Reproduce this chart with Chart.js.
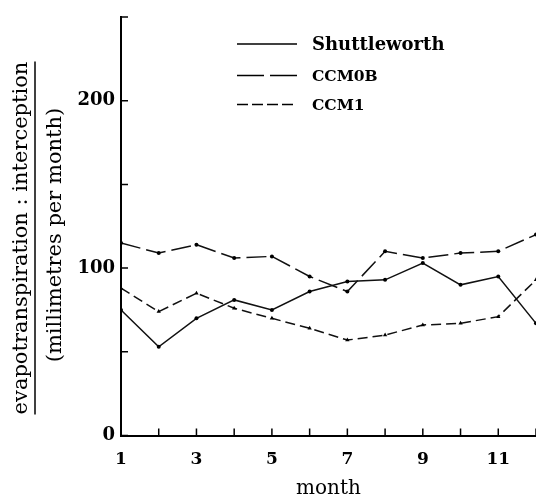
<!DOCTYPE html>
<html>
<head>
<meta charset="utf-8">
<script src="https://cdn.jsdelivr.net/npm/chart.js@4.4.1/dist/chart.umd.min.js"></script>
<style>
  html, body { margin: 0; padding: 0; background: #fff; overflow: hidden; }
  #wrap { width: 536px; height: 499px; overflow: hidden; }
</style>
</head>
<body>
<div id="wrap"><canvas id="myChart" width="540" height="499"></canvas></div>
<script>
// data (mm per month)
var months = [1, 2, 3, 4, 5, 6, 7, 8, 9, 10, 11, 12];
var shuttleworth = [75, 53, 70, 81, 75, 86, 92, 93, 103, 90, 95, 67];
var ccm0b = [115, 109, 114, 106, 107, 95, 86, 110, 106, 109, 110, 120];
var ccm1 = [88, 74, 85, 76, 70, 64, 57, 60, 66, 67, 71, 93];
var seriesNames = ['Shuttleworth', 'CCM0B', 'CCM1'];
var xLabels = [1, 3, 5, 7, 9, 11];
var yLabels = [0, 100, 200];
var yTitle = ['evapotranspiration : interception', '(millimetres per month)'];

var SERIF = '"DejaVu Serif", serif';

function toPoints(vals) {
  return months.map(function (m, i) { return { x: m, y: vals[i] }; });
}

//Drawing stuff that chart.js does not do: inward ticks, fraction title, legend
var paperPlugin = {
  id: 'paper',
  afterDraw: function (chart) {
    var ctx = chart.ctx;
    var xs = chart.scales.x, ys = chart.scales.y, area = chart.chartArea;
    ctx.save();
    ctx.strokeStyle = '#000';
    ctx.lineWidth = 1.5;
    ctx.beginPath();
    xs.ticks.forEach(function (t) {
      var px = xs.getPixelForValue(t.value);
      ctx.moveTo(px, area.bottom);
      ctx.lineTo(px, area.bottom - 7);
    });
    ys.ticks.forEach(function (t) {
      var py = ys.getPixelForValue(t.value);
      ctx.moveTo(area.left, py);
      ctx.lineTo(area.left + 7, py);
    });
    ctx.stroke();

    // y title as a fraction
    ctx.save();
    ctx.rotate(-Math.PI / 2);
    ctx.fillStyle = '#000';
    ctx.textAlign = 'center';
    ctx.textBaseline = 'alphabetic';
    ctx.font = '21px ' + SERIF;
    var w = ctx.measureText(yTitle[0]).width;
    ctx.fillText(yTitle[0], -238, 27);
    ctx.fillText(yTitle[1], -235, 61);
    ctx.lineWidth = 1.5;
    ctx.beginPath();
    ctx.moveTo(-238 - w / 2, 35);
    ctx.lineTo(-238 + w / 2, 35);
    ctx.stroke();
    ctx.restore();

    // legend
    var rowY = [44, 75.5, 104.5];
    var fonts = ['bold 18px ' + SERIF, 'bold 15.5px ' + SERIF, 'bold 15.5px ' + SERIF];
    var legendDash = [[], [27, 6], [11, 4]];
    chart.data.datasets.forEach(function (ds, i) {
      ctx.setLineDash(legendDash[i]);
      ctx.lineWidth = 1.5;
      ctx.beginPath();
      ctx.moveTo(237, rowY[i]);
      ctx.lineTo(297, rowY[i]);
      ctx.stroke();
      ctx.setLineDash([]);
      ctx.font = fonts[i];
      ctx.fillStyle = '#000';
      ctx.textAlign = 'left';
      ctx.textBaseline = 'middle';
      ctx.fillText(ds.label, 312, rowY[i] + 1);
    });
    ctx.restore();
  }
};

var ctx = document.getElementById('myChart').getContext('2d');
var myChart = new Chart(ctx, {
  type: 'line',
  data: {
    datasets: [{
      label: seriesNames[0],
      data: toPoints(shuttleworth),
      borderColor: '#111',
      borderWidth: 1.5,
      pointRadius: 2,
      pointBackgroundColor: '#000',
      pointBorderWidth: 0
    }, {
      label: seriesNames[1],
      data: toPoints(ccm0b),
      borderColor: '#111',
      borderWidth: 1.5,
      borderDash: [20, 6],
      pointRadius: 2,
      pointBackgroundColor: '#000',
      pointBorderWidth: 0
    }, {
      label: seriesNames[2],
      data: toPoints(ccm1),
      borderColor: '#111',
      borderWidth: 1.5,
      borderDash: [10, 5],
      pointStyle: 'triangle',
      pointRadius: 2.5,
      pointBackgroundColor: '#000',
      pointBorderWidth: 0
    }]
  },
  options: {
    responsive: false,
    animation: false,
    devicePixelRatio: 1,
    layout: { padding: { top: 17, right: 0, left: 0, bottom: 0 } },
    plugins: { legend: { display: false }, tooltip: { enabled: false } },
    scales: {
      x: {
        type: 'linear',
        min: 1,
        max: 12,
        afterFit: function (scale) {
          scale.height = 63.5;
          scale.paddingLeft = 0;
          scale.paddingRight = 0;
        },
        border: { display: true, color: '#000', width: 2 },
        grid: { drawOnChartArea: false, drawTicks: false },
        ticks: {
          stepSize: 1,
          autoSkip: false,
          maxRotation: 0,
          padding: 14,
          color: '#000',
          font: { family: SERIF, size: 17, weight: 'bold' },
          callback: function (v) { return xLabels.indexOf(v) >= 0 ? String(v) : ''; }
        },
        title: {
          display: true,
          text: 'month',
          color: '#000',
          padding: 0,
          font: { family: SERIF, size: 20, lineHeight: 1 }
        }
      },
      y: {
        min: 0,
        max: 250,
        afterFit: function (scale) { scale.width = 121; },
        border: { display: true, color: '#000', width: 2 },
        grid: { drawOnChartArea: false, drawTicks: false },
        ticks: {
          stepSize: 50,
          padding: 6,
          color: '#000',
          font: { family: SERIF, size: 18, weight: 'bold' },
          callback: function (v) { return yLabels.indexOf(v) >= 0 ? String(v) : ''; }
        }
      }
    }
  },
  plugins: [paperPlugin]
});
</script>
</body>
</html>
